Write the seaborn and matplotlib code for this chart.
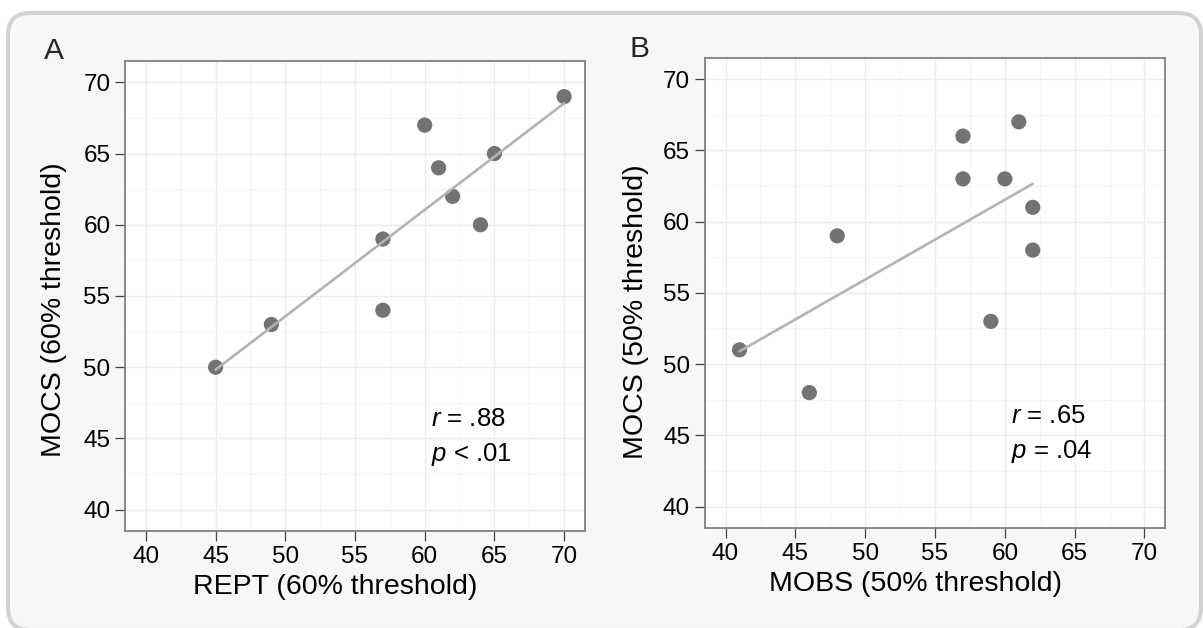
import numpy as np
import pandas as pd
import matplotlib
matplotlib.use("Agg")
import matplotlib.pyplot as plt
import seaborn as sns
from matplotlib.patches import FancyBboxPatch
from matplotlib.transforms import IdentityTransform
from matplotlib.ticker import MultipleLocator, FixedLocator

# ---- data ----
rept_a = [45, 49, 57, 57, 60, 61, 62, 64, 65, 70]
mocs_a = [50, 53, 59, 54, 67, 64, 62, 60, 65, 69]
mobs_b = [41, 46, 48, 57, 57, 59, 60, 61, 62, 62]
mocs_b = [51, 48, 59, 66, 63, 53, 63, 67, 61, 58]
tick_values = [40, 45, 50, 55, 60, 65, 70]
xlabel_a = "REPT (60% threshold)"
ylabel_a = "MOCS (60% threshold)"
xlabel_b = "MOBS (50% threshold)"
ylabel_b = "MOCS (50% threshold)"
stats_a = ["$r$ = .88", "$p$ < .01"]
stats_b = ["$r$ = .65", "$p$ = .04"]
panel_labels = ["A", "B"]

sns.set_style("whitegrid")
plt.rcParams['font.family'] = ['Liberation Sans', 'DejaVu Sans']
plt.rcParams['mathtext.fontset'] = 'custom'
plt.rcParams['mathtext.rm'] = 'Liberation Sans'
plt.rcParams['mathtext.it'] = 'Liberation Sans:italic'

W, H = 1203, 628
fig = plt.figure(figsize=(W / 100, H / 100), dpi=100)
fig.patch.set_facecolor("white")

# rounded background panel (pixel coords)
bg = FancyBboxPatch((8, H - 630), 1201 - 8, 630 - 13,
                    boxstyle="round,pad=0,rounding_size=22",
                    facecolor="#f7f7f7", edgecolor="#d2d2d2", linewidth=2.9,
                    transform=IdentityTransform(), zorder=-5)
fig.add_artist(bg)

def px_axes(l, t, r, b):
    return [l / W, 1 - b / H, (r - l) / W, (b - t) / H]

ax_a = fig.add_axes(px_axes(125, 61, 585, 531))
ax_b = fig.add_axes(px_axes(704.6, 57.7, 1165.4, 528))

df_a = pd.DataFrame({"x": rept_a, "y": mocs_a})
df_b = pd.DataFrame({"x": mobs_b, "y": mocs_b})

point_color = "#737373"
line_color = "#b3b3b3"

def draw(ax, df, xlabel, ylabel, stats, ylab_x, ylab_y, xlab_x):
    ax.set_facecolor("white")
    sns.scatterplot(data=df, x="x", y="y", ax=ax, color=point_color,
                    s=120, edgecolor="none", linewidth=0, zorder=3)
    sns.regplot(data=df, x="x", y="y", ax=ax, scatter=False, ci=None,
                truncate=True, color=line_color,
                line_kws={"linewidth": 1.9, "zorder": 4})
    ax.set_xlim(38.5, 71.5)
    ax.set_ylim(38.5, 71.5)
    ax.xaxis.set_major_locator(FixedLocator(tick_values))
    ax.yaxis.set_major_locator(FixedLocator(tick_values))
    ax.set_xticklabels([str(v) for v in tick_values])
    ax.set_yticklabels([str(v) for v in tick_values])
    ax.xaxis.set_minor_locator(MultipleLocator(2.5))
    ax.yaxis.set_minor_locator(MultipleLocator(2.5))
    ax.grid(which="major", color="#ebebeb", linewidth=1.0)
    ax.grid(which="minor", color="#f4f4f4", linewidth=0.7)
    ax.set_axisbelow(True)
    for sp in ax.spines.values():
        sp.set_visible(True)
        sp.set_color("#808080")
        sp.set_linewidth(1.3)
    ax.tick_params(which="major", direction="out", length=7.0, width=0.9,
                   color="#444444", labelsize=17.5, labelcolor="black", pad=3.5,
                   bottom=True, left=True, top=False, right=False)
    ax.tick_params(which="minor", length=0, bottom=False, left=False)
    ax.set_xlabel(xlabel, fontsize=20.5, color="black")
    ax.set_ylabel(ylabel, fontsize=20.5, color="black")
    ax.xaxis.set_label_coords(xlab_x, -0.0915)
    ax.yaxis.set_label_coords(ylab_x, ylab_y)
    ax.text(60.45, 45.85, stats[0], fontsize=18.5, va="baseline", ha="left", color="black")
    ax.text(60.45, 43.4, stats[1], fontsize=18.5, va="baseline", ha="left", color="black")

draw(ax_a, df_a, xlabel_a, ylabel_a, stats_a, -0.126, 0.47, 0.4576)
draw(ax_b, df_b, xlabel_b, ylabel_b, stats_b, -0.121, 0.46, 0.4566)

fig.text(44 / W, 1 - 59 / H, panel_labels[0], fontsize=21.5, va="baseline", ha="left")
fig.text(630 / W, 1 - 57 / H, panel_labels[1], fontsize=21.5, va="baseline", ha="left")

fig.savefig("out.png", dpi=100)
